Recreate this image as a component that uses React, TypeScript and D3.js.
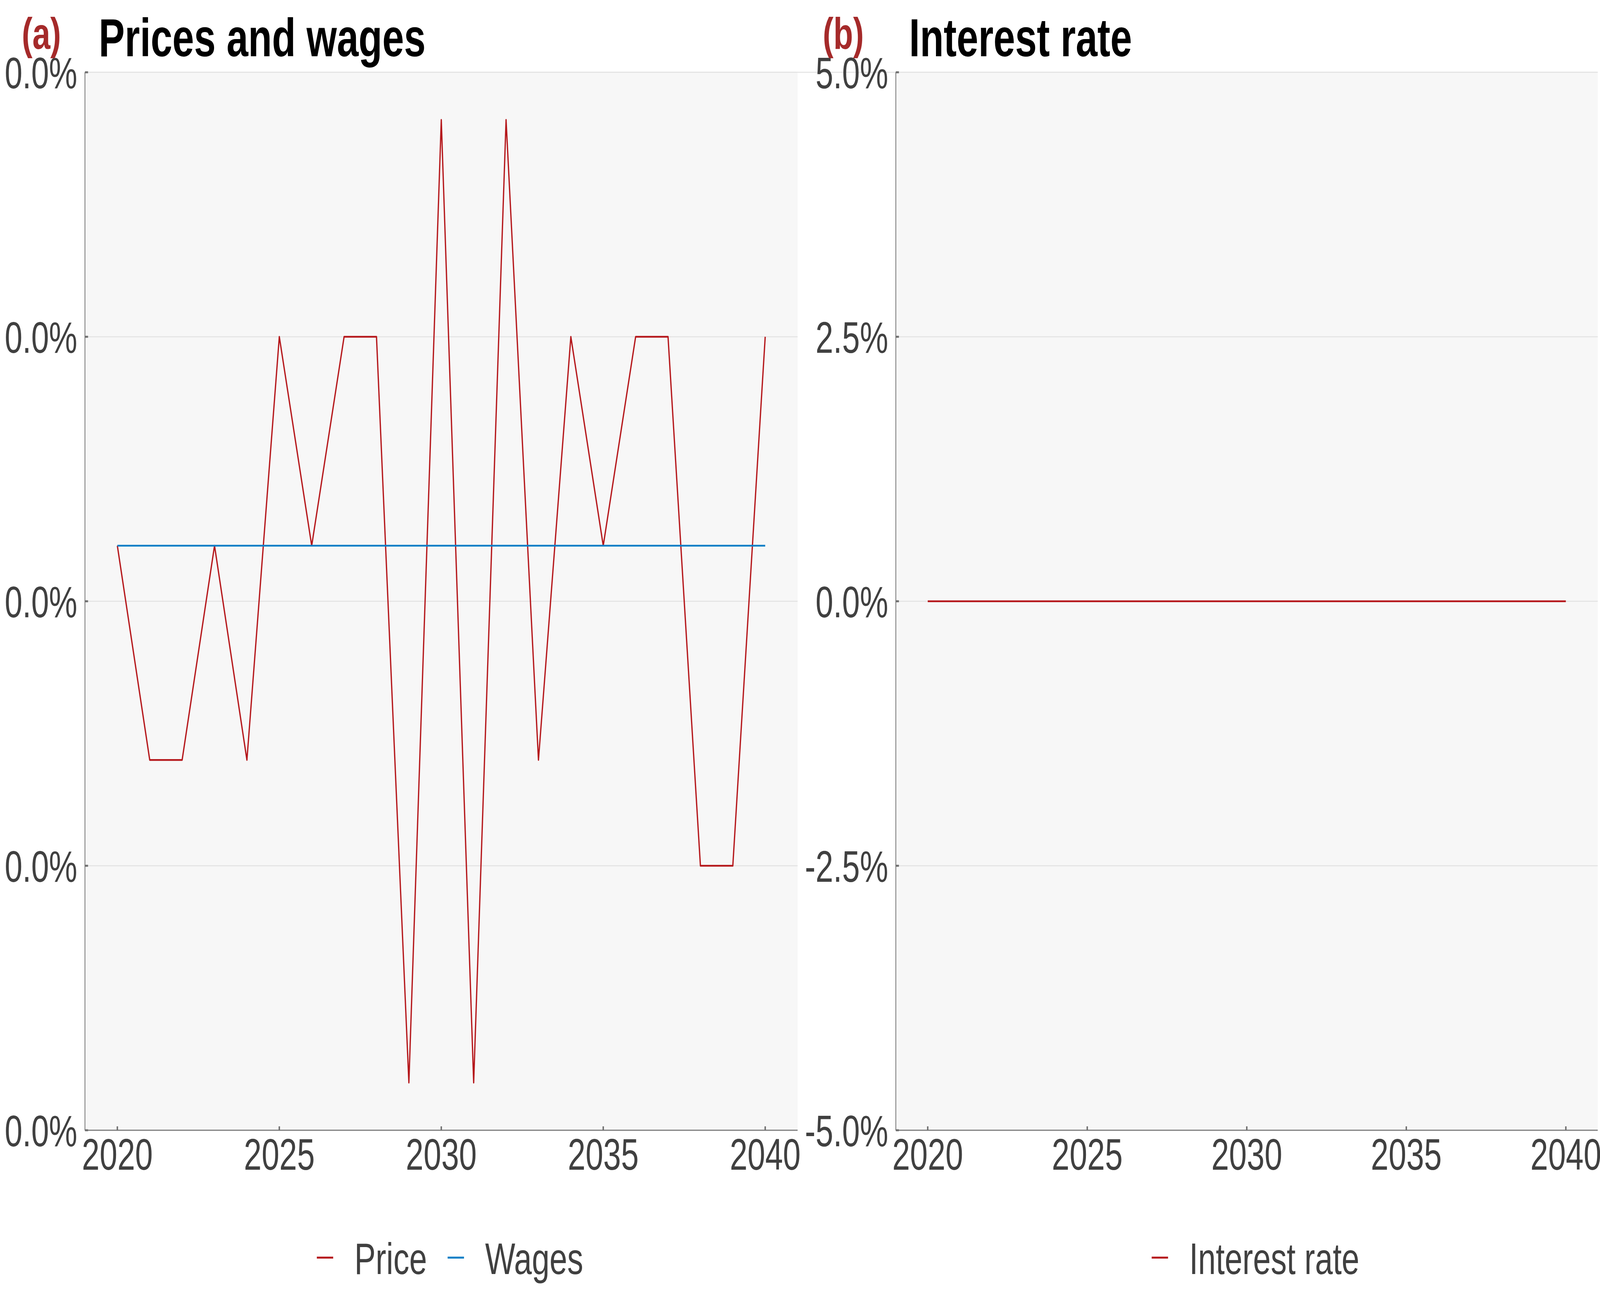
import React, { useEffect, useRef } from 'react';
import * as d3 from 'd3';

const W = 5669;
const H = 3307;

const years = [2020, 2021, 2022, 2023, 2024, 2025, 2026, 2027, 2028, 2029, 2030, 2031, 2032, 2033, 2034, 2035, 2036, 2037, 2038, 2039, 2040];
const priceValues = [2.1e-18, -6.0e-18, -6.0e-18, 2.1e-18, -6.0e-18, 1.0e-17, 2.1e-18, 1.0e-17, 1.0e-17, -1.82e-17, 1.82e-17, -1.82e-17, 1.82e-17, -6.0e-18, 1.0e-17, 2.1e-18, 1.0e-17, 1.0e-17, -1.0e-17, -1.0e-17, 1.0e-17];
const wageValues = [2.1e-18, 2.1e-18, 2.1e-18, 2.1e-18, 2.1e-18, 2.1e-18, 2.1e-18, 2.1e-18, 2.1e-18, 2.1e-18, 2.1e-18, 2.1e-18, 2.1e-18, 2.1e-18, 2.1e-18, 2.1e-18, 2.1e-18, 2.1e-18, 2.1e-18, 2.1e-18, 2.1e-18];
const interestValues = [0, 0, 0, 0, 0, 0, 0, 0, 0, 0, 0, 0, 0, 0, 0, 0, 0, 0, 0, 0, 0];

const xTicks = [2020, 2025, 2030, 2035, 2040];
const leftYTicks = [-2e-17, -1e-17, 0, 1e-17, 2e-17];
const leftYLabels = ['0.0%', '0.0%', '0.0%', '0.0%', '0.0%'];
const rightYTicks = [-0.05, -0.025, 0, 0.025, 0.05];
const rightYLabels = ['-5.0%', '-2.5%', '0.0%', '2.5%', '5.0%'];

const RED = '#B5171B';
const BLUE = '#0A7EC6';
const FONT = '"Liberation Sans", Arial, sans-serif';

interface Series { name: string; values: number[]; color: string }
interface Panel {
  tag: string;
  title: string;
  x0: number;
  x1: number;
  tagX: number;
  titleX: number;
  yTicks: number[];
  yLabels: string[];
  series: Series[];
}

const TOP = 185;
const BOTTOM = 2893;

const panels: Panel[] = [
  {
    tag: '(a)', title: 'Prices and wages', x0: 301, x1: 2826, tagX: 77, titleX: 350,
    yTicks: leftYTicks, yLabels: leftYLabels,
    series: [
      { name: 'Price', values: priceValues, color: RED },
      { name: 'Wages', values: wageValues, color: BLUE },
    ],
  },
  {
    tag: '(b)', title: 'Interest rate', x0: 3174, x1: 5661, tagX: 2915, titleX: 3221,
    yTicks: rightYTicks, yLabels: rightYLabels,
    series: [{ name: 'Interest rate', values: interestValues, color: RED }],
  },
];

export default function App() {
  const svgRef = useRef<SVGSVGElement>(null);

  useEffect(() => {
    if (!svgRef.current) return;
    const svg = d3.select(svgRef.current);
    svg.selectAll('*').remove();

    svg.append('rect').attr('width', W).attr('height', H).attr('fill', '#ffffff');

    // faint line running along the top of both panels
    svg.append('line')
      .attr('x1', panels[0].x0).attr('x2', panels[1].x1)
      .attr('y1', TOP).attr('y2', TOP)
      .attr('stroke', '#E2E2E2').attr('stroke-width', 2.5);

    panels.forEach(p => {
      const g = svg.append('g');
      const x = d3.scaleLinear().domain([2019, 2041]).range([p.x0, p.x1]);
      const y = d3.scaleLinear()
        .domain([p.yTicks[0], p.yTicks[p.yTicks.length - 1]])
        .range([BOTTOM, TOP]);

      g.append('rect')
        .attr('x', p.x0).attr('y', TOP)
        .attr('width', p.x1 - p.x0).attr('height', BOTTOM - TOP)
        .attr('fill', '#F7F7F7');

      g.selectAll('.grid').data(p.yTicks).join('line')
        .attr('x1', p.x0).attr('x2', p.x1)
        .attr('y1', d => y(d)).attr('y2', d => y(d))
        .attr('stroke', '#E2E2E2').attr('stroke-width', 2.5);

      const line = d3.line<number>()
        .x((d, i) => x(years[i]))
        .y(d => y(d));

      p.series.forEach(s => {
        g.append('path')
          .attr('d', line(s.values))
          .attr('fill', 'none')
          .attr('stroke', s.color)
          .attr('stroke-width', 4.5)
          .attr('stroke-linejoin', 'round');
      });

      // axes
      g.append('line').attr('x1', p.x0).attr('x2', p.x0).attr('y1', TOP).attr('y2', BOTTOM)
        .attr('stroke', '#7F7F7F').attr('stroke-width', 3);
      g.append('line').attr('x1', p.x0).attr('x2', p.x1).attr('y1', BOTTOM).attr('y2', BOTTOM)
        .attr('stroke', '#7F7F7F').attr('stroke-width', 3);

      g.selectAll('.ytick').data(p.yTicks).join('line')
        .attr('x1', p.x0).attr('x2', p.x0 + 11)
        .attr('y1', d => y(d)).attr('y2', d => y(d))
        .attr('stroke', '#6E6E6E').attr('stroke-width', 5);

      g.selectAll('.xtick').data(xTicks).join('line')
        .attr('x1', d => x(d)).attr('x2', d => x(d))
        .attr('y1', BOTTOM).attr('y2', BOTTOM - 10)
        .attr('stroke', '#6E6E6E').attr('stroke-width', 5);

      g.selectAll('.ylab').data(p.yTicks).join('text')
        .attr('x', p.x0 - 27)
        .attr('y', d => y(d))
        .attr('dy', '0.36em')
        .attr('text-anchor', 'end')
        .attr('font-family', FONT).attr('font-size', 113)
        .attr('fill', '#404040')
        .text((d, i) => p.yLabels[i]);

      g.selectAll('.xlab').data(xTicks).join('text')
        .attr('x', d => x(d))
        .attr('y', BOTTOM + 101)
        .attr('text-anchor', 'middle')
        .attr('font-family', FONT).attr('font-size', 113)
        .attr('fill', '#404040')
        .text(d => String(d));

      // title + tag
      g.append('text')
        .attr('x', p.tagX).attr('y', 125)
        .attr('font-family', FONT).attr('font-size', 114).attr('font-weight', 'bold')
        .attr('fill', '#A52A2A')
        .text(p.tag);
      g.append('text')
        .attr('x', p.titleX).attr('y', 144)
        .attr('font-family', FONT).attr('font-size', 138).attr('font-weight', 'bold')
        .attr('fill', '#000000')
        .text(p.title);

      // legend, centred under the panel
      const keyLen = 58;
      const keyGap = 75;
      const itemGap = 73;
      const leg = g.append('g');
      let cursor = 0;
      p.series.forEach((s, i) => {
        if (i > 0) cursor += itemGap;
        leg.append('line')
          .attr('x1', cursor).attr('x2', cursor + keyLen)
          .attr('y1', 3219).attr('y2', 3219)
          .attr('stroke', s.color).attr('stroke-width', 5);
        cursor += keyLen + keyGap;
        const t = leg.append('text')
          .attr('x', cursor).attr('y', 3261)
          .attr('font-family', FONT).attr('font-size', 113)
          .attr('fill', '#404040')
          .text(s.name);
        const node = t.node() as SVGTextElement;
        cursor += node.getComputedTextLength();
      });
      const centre = (p.x0 + p.x1) / 2 + 31;
      leg.attr('transform', `translate(${centre - cursor / 2},0)`);
    });
  }, []);

  return (
    <svg
      ref={svgRef}
      viewBox={`0 0 ${W} ${H}`}
      preserveAspectRatio="none"
      style={{ position: 'absolute', left: 0, top: 0, width: '100vw', height: '100vh', display: 'block' }}
    />
  );
}
